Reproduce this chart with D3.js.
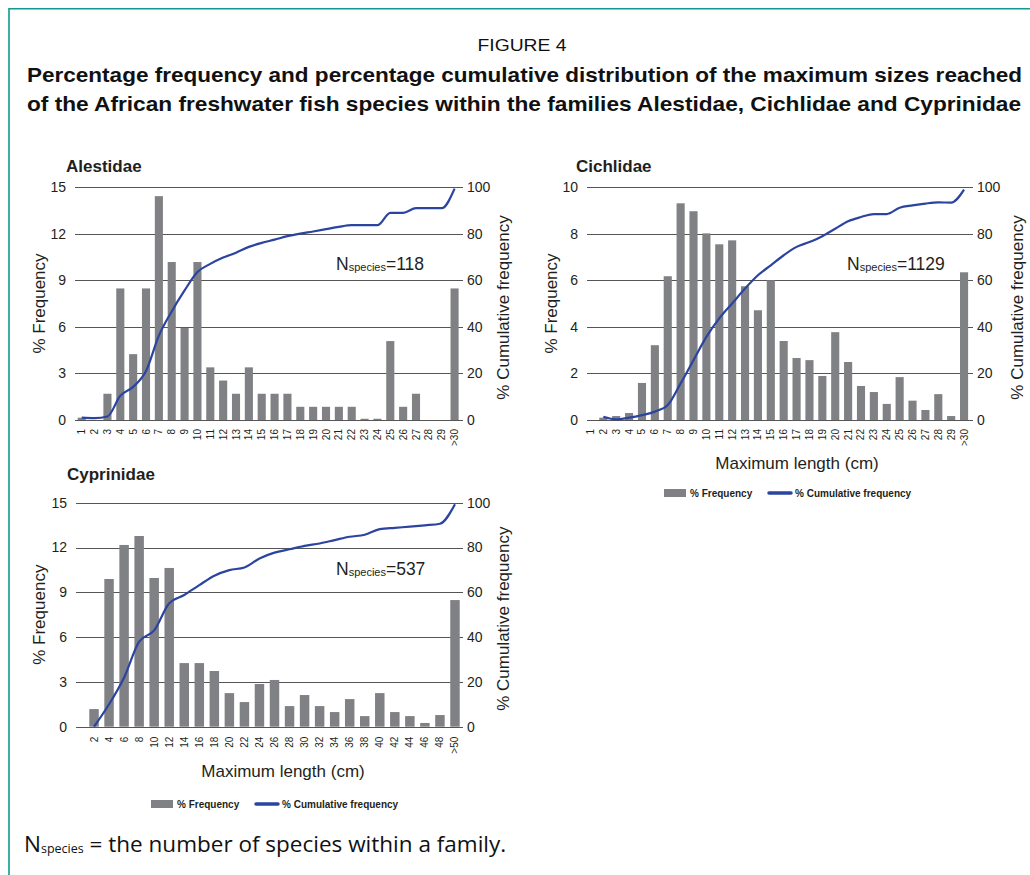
<!DOCTYPE html>
<html><head><meta charset="utf-8">
<script src="https://cdn.jsdelivr.net/npm/d3@7"></script>
<style>body{margin:0;background:#fff}svg{display:block}</style>
</head><body>
<svg id="c" width="1030" height="875"></svg>
<script>
// ---------------- DATA ----------------
const alestidaeCategories = ["1","2","3","4","5","6","7","8","9","10","11","12","13","14","15","16","17","18","19","20","21","22","23","24","25","26","27","28","29",">30"];
const alestidaeFrequency  = [0.15,0,1.69,8.47,4.24,8.47,14.41,10.17,5.93,10.17,3.39,2.54,1.69,3.39,1.69,1.69,1.69,0.85,0.85,0.85,0.85,0.85,0.08,0.08,5.08,0.85,1.69,0,0,8.47];
const alestidaeCumulative = [1.0,0.8,1.5,10.4,14.2,21,36.2,46.6,55.6,63.5,67,69.7,71.8,74.3,76,77.4,78.9,80,80.9,81.9,82.9,83.6,83.6,83.6,88.9,88.9,90.9,90.9,90.9,99.3];

const cichlidaeCategories = ["1","2","3","4","5","6","7","8","9","10","11","12","13","14","15","16","17","18","19","20","21","22","23","24","25","26","27","28","29",">30"];
const cichlidaeFrequency  = [0,0.1,0.17,0.3,1.59,3.21,6.17,9.3,8.96,8.01,7.54,7.71,5.74,4.71,6.0,3.39,2.66,2.57,1.89,3.77,2.49,1.46,1.2,0.69,1.84,0.83,0.43,1.11,0.17,6.34];
const cichlidaeCumulative = [null,1.4,0.3,1.0,2.1,3.6,6.4,15.7,25.7,35.7,43.6,50,56.4,62.1,66.4,70.7,74.3,76.4,78.9,82.1,85.3,87.1,88.4,88.4,91.1,92.1,92.9,93.4,93.3,98.9];

const cyprinidaeCategories = ["2","4","6","8","10","12","14","16","18","20","22","24","26","28","30","32","34","36","38","40","42","44","46","48",">50"];
const cyprinidaeFrequency  = [1.18,9.89,12.17,12.77,9.96,10.63,4.26,4.26,3.73,2.25,1.65,2.86,3.13,1.38,2.12,1.38,0.98,1.85,0.71,2.25,0.98,0.71,0.25,0.78,8.48];
const cyprinidaeCumulative = [0,10.0,22.0,38.0,43.0,55.1,58.8,63.2,67.4,69.9,71.1,75.1,77.7,79.2,80.7,81.8,83.3,84.8,85.7,88.2,88.8,89.3,89.9,90.6,99.3];

const frequencyTicks15 = [0,3,6,9,12,15];
const frequencyTicks10 = [0,2,4,6,8,10];
const cumulativeTicks  = [0,20,40,60,80,100];
const speciesCounts = {Alestidae:"118", Cichlidae:"1129", Cyprinidae:"537"};

// ---------------- STYLE ----------------
const BAR = "#808184", LINE = "#2b44a0", GRID = "#555", TXT = "#231f20";
const CF = "'Liberation Sans', Arial, Helvetica, sans-serif";

const svg = d3.select("#c");

// frame
svg.append("line").attr("x1",9).attr("x2",1030).attr("y1",8.75).attr("y2",8.75).attr("stroke","#0c9b8e").attr("stroke-width",1.6);
svg.append("line").attr("x1",9).attr("x2",9).attr("y1",8).attr("y2",875).attr("stroke","#0c9b8e").attr("stroke-width",1.6);

// titles
const COND = "'Liberation Sans', Arial, sans-serif";
svg.append("text").attr("x",522).attr("y",51).attr("text-anchor","middle")
  .attr("font-family",COND).attr("font-size",17).attr("fill","#111")
  .attr("textLength",89).attr("lengthAdjust","spacingAndGlyphs").text("FIGURE 4");
svg.append("text").attr("x",27).attr("y",82)
  .attr("font-family",COND).attr("font-weight","bold").attr("font-size",21).attr("fill","#111")
  .attr("textLength",995).attr("lengthAdjust","spacingAndGlyphs")
  .text("Percentage frequency and percentage cumulative distribution of the maximum sizes reached");
svg.append("text").attr("x",27).attr("y",111)
  .attr("font-family",COND).attr("font-weight","bold").attr("font-size",21).attr("fill","#111")
  .attr("textLength",994).attr("lengthAdjust","spacingAndGlyphs")
  .text("of the African freshwater fish species within the families Alestidae, Cichlidae and Cyprinidae");

// footnote
const fn = svg.append("text").attr("x",24).attr("y",852).attr("font-family","'Open Sans',sans-serif").attr("fill","#111").attr("font-size",22.5);
fn.append("tspan").text("N");
fn.append("tspan").attr("font-size",12.5).attr("dy",1).text("species");
fn.append("tspan").attr("dy",-1).text(" = the number of species within a family.");

// ---------------- PANELS ----------------
const panels = [
  {name:"Alestidae", cats:alestidaeCategories, freq:alestidaeFrequency, cum:alestidaeCumulative, fmax:15, fticks:frequencyTicks15,
   L:{titleX:66,titleY:172,b0:75.3,b1:461,g0:75,g1:460,yTop:187,yBot:420,yT:45,y2T:509,nX:336,nY:270,xlab:9,xTitle:null,legend:null}},
  {name:"Cichlidae", cats:cichlidaeCategories, freq:cichlidaeFrequency, cum:cichlidaeCumulative, fmax:10, fticks:frequencyTicks10,
   L:{titleX:576,titleY:172,b0:584,b1:970.5,g0:587,g1:970,yTop:187,yBot:420,yT:557,y2T:1023,nX:847,nY:270,xlab:9,xTitle:{x:797,y:469},legend:{x:664,y:493}}},
  {name:"Cyprinidae", cats:cyprinidaeCategories, freq:cyprinidaeFrequency, cum:cyprinidaeCumulative, fmax:15, fticks:frequencyTicks15,
   L:{titleX:67,titleY:480,b0:86.5,b1:462.5,g0:76,g1:460,yTop:502.7,yBot:726.7,yT:45,y2T:509,nX:336,nY:575,xlab:10,xTitle:{x:283,y:777},legend:{x:151,y:804}}}
];

panels.forEach(p => {
  const L = p.L;
  const g = svg.append("g").attr("font-family",CF).attr("fill",TXT);
  const x = d3.scaleBand().domain(p.cats).range([L.b0,L.b1]).paddingInner(0.37).paddingOuter(0.185);
  const y = d3.scaleLinear().domain([0,p.fmax]).range([L.yBot,L.yTop]);
  const y2 = d3.scaleLinear().domain([0,100]).range([L.yBot,L.yTop]);

  // gridlines
  g.append("g").selectAll("line").data(p.fticks).join("line")
    .attr("x1",L.g0).attr("x2",L.g1+3)
    .attr("y1",d=>Math.round(y(d))+0.5).attr("y2",d=>Math.round(y(d))+0.5)
    .attr("stroke",GRID).attr("stroke-width",1);

  // left axis labels
  const ax = d3.axisLeft(y).tickValues(p.fticks).tickSize(0).tickPadding(0);
  const ga = g.append("g").attr("transform",`translate(${L.g0-9},0)`).call(ax);
  ga.select(".domain").remove();
  ga.selectAll("text").attr("font-size",14).attr("font-family",CF).attr("fill",TXT);

  const ax2 = d3.axisRight(y2).tickValues(cumulativeTicks).tickSize(0).tickPadding(0);
  const ga2 = g.append("g").attr("transform",`translate(${L.g1+7},0)`).call(ax2);
  ga2.select(".domain").remove();
  ga2.selectAll("text").attr("font-size",14).attr("font-family",CF).attr("fill",TXT);

  // bars
  g.append("g").selectAll("rect").data(p.cats.map((c,i)=>({c,v:p.freq[i]}))).join("rect")
    .attr("x",d=>x(d.c)).attr("width",x.bandwidth())
    .attr("y",d=>y(d.v)).attr("height",d=>Math.max(0,L.yBot-y(d.v)))
    .attr("fill",BAR);

  // baseline over bars
  g.append("line").attr("x1",L.g0).attr("x2",L.g1+3).attr("y1",Math.round(L.yBot)+0.5).attr("y2",Math.round(L.yBot)+0.5).attr("stroke",GRID);

  // x tick labels
  const axb = d3.axisBottom(x).tickSize(0).tickPadding(0);
  const gb = g.append("g").attr("transform",`translate(0,${L.yBot})`).call(axb);
  gb.select(".domain").remove();
  gb.selectAll("text").attr("font-size",10).attr("font-family",CF).attr("fill",TXT)
    .attr("text-anchor","end").attr("y",0).attr("x",0)
    .attr("dy","0.35em")
    .attr("transform",`translate(0,${L.xlab}) rotate(-90)`);

  // cumulative line
  const line = d3.line().defined(d=>d.v!=null).x(d=>x(d.c)+x.bandwidth()/2).y(d=>y2(d.v)).curve(d3.curveMonotoneX);
  g.append("path").datum(p.cats.map((c,i)=>({c,v:p.cum[i]})))
    .attr("d",line).attr("fill","none").attr("stroke",LINE).attr("stroke-width",2.2);

  // panel title
  g.append("text").attr("x",L.titleX).attr("y",L.titleY).attr("font-size",17).attr("font-weight","bold").text(p.name);

  // axis titles
  const cy = (L.yTop+L.yBot)/2;
  g.append("text").attr("transform",`translate(${L.yT},${cy}) rotate(-90)`).attr("text-anchor","middle").attr("font-size",17).text("% Frequency");
  g.append("text").attr("transform",`translate(${L.y2T},${cy+4}) rotate(-90)`).attr("text-anchor","middle").attr("font-size",17).text("% Cumulative frequency");

  // N species
  const nt = g.append("text").attr("x",L.nX).attr("y",L.nY).attr("font-size",17.5);
  nt.append("tspan").text("N");
  nt.append("tspan").attr("font-size",11).attr("dy",1).text("species");
  nt.append("tspan").attr("dy",-1).text("=" + speciesCounts[p.name]);

  if (L.xTitle) {
    g.append("text").attr("x",L.xTitle.x).attr("y",L.xTitle.y).attr("text-anchor","middle").attr("font-size",17).text("Maximum length (cm)");
  }
  if (L.legend) {
    const lg = g.append("g").attr("transform",`translate(${L.legend.x},${L.legend.y})`);
    lg.append("rect").attr("x",0).attr("y",-4).attr("width",22).attr("height",8).attr("fill",BAR);
    lg.append("text").attr("x",26).attr("y",3.5).attr("font-size",10).attr("font-weight","bold").text("% Frequency");
    lg.append("line").attr("x1",105).attr("x2",127).attr("y1",0).attr("y2",0).attr("stroke",LINE).attr("stroke-width",3.5).attr("stroke-linecap","round");
    lg.append("text").attr("x",131).attr("y",3.5).attr("font-size",10).attr("font-weight","bold").text("% Cumulative frequency");
  }
});
</script>
</body></html>
